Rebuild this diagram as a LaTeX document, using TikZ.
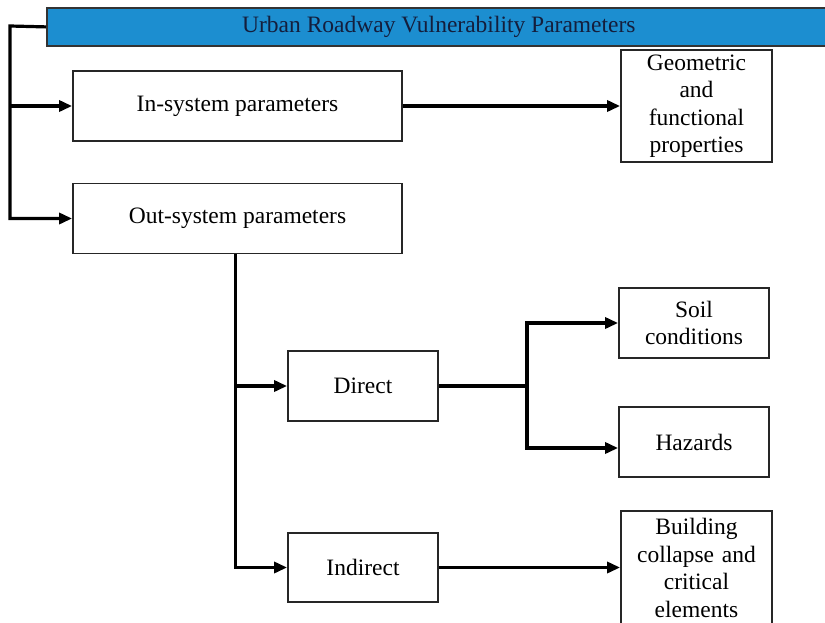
\documentclass[tikz,border=0pt]{standalone}
\usepackage{fontspec}
\setmainfont{Liberation Serif}
\usetikzlibrary{arrows.meta,calc}
\definecolor{barblue}{RGB}{28,142,208}
\definecolor{titletext}{RGB}{20,30,60}
\begin{document}
\begin{tikzpicture}[x=1pt,y=-1pt,
  box/.style={draw=black!85,line width=1.8pt,fill=white,inner sep=0pt,align=center,
    font=\fontsize{23.5}{27.5}\selectfont},
  conn/.style={line width=3.2pt,black,line cap=butt,line join=miter},
  arr/.style={conn,-{Triangle[length=13pt,width=11pt]}}]
\path[use as bounding box,clip] (0,0) rectangle (825,622);
\fill[white] (0,0) rectangle (825,622);
% title bar
\node[box,fill=barblue,draw=black!80,minimum width=784,minimum height=38,anchor=north west,text=titletext] (title) at (46,7) {Urban Roadway Vulnerability Parameters};
% level 1
\node[box,minimum width=329,minimum height=70] (insys) at (237.5,106) {In-system parameters};
\node[box,minimum width=329,minimum height=70] (outsys) at (237.5,218.5) {Out-system parameters};
\node[box,minimum width=151,minimum height=112,text width=145] (geo) at (696.5,106) {Geometric\\and\\functional\\properties};
% level 2
\node[box,minimum width=150,minimum height=70] (direct) at (363,386) {Direct};
\node[box,minimum width=150,minimum height=69] (indirect) at (363,567.5) {Indirect};
% level 3
\node[box,minimum width=150,minimum height=70,text width=145] (soil) at (694,323) {Soil\\conditions};
\node[box,minimum width=150,minimum height=70] (haz) at (694,442) {Hazards};
\node[box,minimum width=151,minimum height=114,text width=145] (build) at (696.5,568) {Building\\collapse and\\critical\\elements};
% connectors
\coordinate (trunk) at (10,26);
\draw[arr] (title.west) -- (trunk) -- (trunk |- outsys.west) -- (outsys.west);
\draw[arr] (trunk |- insys.west) -- (insys.west);
\draw[arr] (insys.east) -- (geo.west);
\coordinate (otrunk) at ($(outsys.south)+(-2,0)$);
\draw[arr] (otrunk) |- (indirect.west);
\draw[arr] (otrunk |- direct.west) -- (direct.west);
\coordinate (dj) at (527,386);
\draw[conn] (direct.east) -- (dj);
\draw[arr] (dj) |- (soil.west);
\draw[arr] (dj) |- ($(haz.west)+(0,6)$);
\draw[arr] (indirect.east) -- (indirect.east -| build.west);
\end{tikzpicture}
\end{document}
